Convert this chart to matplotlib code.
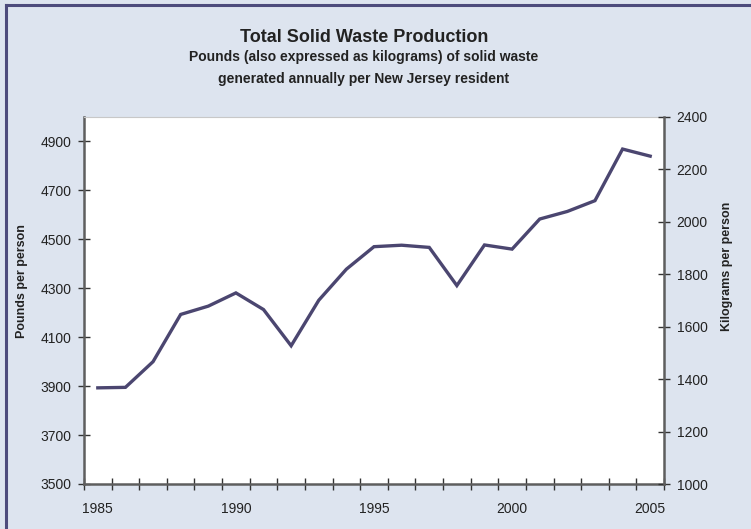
import matplotlib
matplotlib.use("Agg")
import matplotlib.pyplot as plt
from matplotlib.lines import Line2D
import numpy as np

years = list(range(1985, 2006))
pounds = [3893, 3895, 4000, 4193, 4227, 4281, 4213, 4065, 4251, 4378,
          4470, 4476, 4467, 4311, 4477, 4460, 4583, 4614, 4658, 4869, 4840]
left_ticks = [3500, 3700, 3900, 4100, 4300, 4500, 4700, 4900]
right_ticks = [1000, 1200, 1400, 1600, 1800, 2000, 2200, 2400]
xlabel_years = [1985, 1990, 1995, 2000, 2005]

title = "Total Solid Waste Production"
subtitle1 = "Pounds (also expressed as kilograms) of solid waste"
subtitle2 = "generated annually per New Jersey resident"

plt.rcParams['font.family'] = ['Liberation Sans', 'DejaVu Sans']

W, H = 751, 529
fig = plt.figure(figsize=(W / 100, H / 100), dpi=100)
fig.patch.set_facecolor('#dde4ef')

# frame border (left and top)
fig.add_artist(Line2D([6.5 / W, 6.5 / W], [0, 1 - 5 / H], transform=fig.transFigure,
                      color='#4d4b7c', lw=2.2))
fig.add_artist(Line2D([6.5 / W, 1], [1 - 5 / H, 1 - 5 / H], transform=fig.transFigure,
                      color='#4d4b7c', lw=2.2))

left, right, top, bottom = 84, 664, 117, 484
ax = fig.add_axes([left / W, 1 - bottom / H, (right - left) / W, (bottom - top) / H])
ax.set_facecolor('white')

x = np.arange(len(years))
ax.plot(x, pounds, color='#4b4670', lw=2.4, solid_joinstyle='miter')

ax.set_xlim(-0.5, len(years) - 0.5)
ax.set_ylim(3500, 5000)

tick_fs = 10
ax.set_yticks(left_ticks)
ax.set_yticklabels([str(v) for v in left_ticks], fontsize=tick_fs, color='#222222')
ax.tick_params(axis='y', direction='inout', length=8, width=1, color='#333333', pad=5)

ax.set_xticks([years.index(y) for y in xlabel_years])
ax.set_xticklabels([str(y) for y in xlabel_years], fontsize=tick_fs, color='#222222')
ax.tick_params(axis='x', which='major', length=0, pad=13)
ax.set_xticks(np.arange(-0.5, len(years), 1.0), minor=True)
ax.tick_params(axis='x', which='minor', direction='inout', length=8, width=1, color='#333333')

for s in ['left', 'bottom']:
    ax.spines[s].set_color('#5e5e5e')
    ax.spines[s].set_linewidth(1.8)
ax.spines['top'].set_color('#c8c8c8')
ax.spines['top'].set_linewidth(0.8)
ax.spines['right'].set_visible(False)

ax2 = ax.twinx()
ax2.set_ylim(1000, 2400)
ax2.set_yticks(right_ticks)
ax2.set_yticklabels([str(v) for v in right_ticks], fontsize=tick_fs, color='#222222')
ax2.tick_params(axis='y', direction='inout', length=8, width=1, color='#333333', pad=5)
for s in ['left', 'bottom', 'top']:
    ax2.spines[s].set_visible(False)
ax2.spines['right'].set_color('#5e5e5e')
ax2.spines['right'].set_linewidth(1.8)

fig.text(22 / W, 1 - 281 / H, "Pounds per person", rotation=90, ha='center', va='center',
         fontsize=9, fontweight='bold', color='#222222')
fig.text(727 / W, 1 - 266 / H, "Kilograms per person", rotation=90, ha='center', va='center',
         fontsize=9, fontweight='bold', color='#222222')

cx = 364 / W
fig.text(cx, 1 - 37 / H, title, ha='center', va='center', fontsize=13,
         fontweight='bold', color='#222222')
fig.text(cx, 1 - 57 / H, subtitle1, ha='center', va='center', fontsize=10,
         fontweight='bold', color='#222222')
fig.text(cx, 1 - 79 / H, subtitle2, ha='center', va='center', fontsize=10,
         fontweight='bold', color='#222222')

fig.savefig("out.png", dpi=100, facecolor=fig.get_facecolor())
